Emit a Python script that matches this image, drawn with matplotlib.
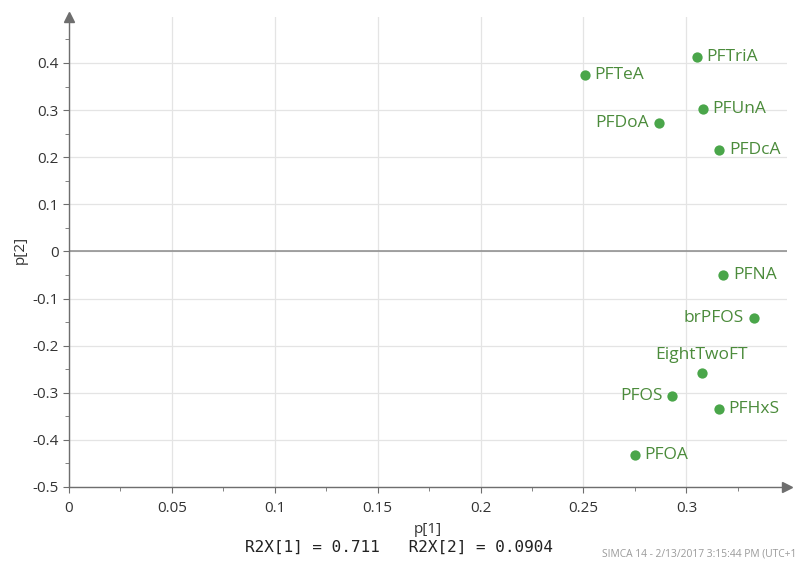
import matplotlib
matplotlib.use("Agg")
import matplotlib.pyplot as plt
from matplotlib.ticker import MultipleLocator, FuncFormatter

plt.rcParams['font.family'] = ['Open Sans', 'DejaVu Sans']

names = ["PFTriA", "PFTeA", "PFUnA", "PFDoA", "PFDcA", "PFNA",
         "brPFOS", "EightTwoFT", "PFOS", "PFHxS", "PFOA"]
p1 = [0.305, 0.2505, 0.308, 0.2865, 0.316, 0.318,
      0.3327, 0.3074, 0.293, 0.3157, 0.2748]
p2 = [0.413, 0.375, 0.302, 0.273, 0.215, -0.050,
      -0.141, -0.258, -0.307, -0.334, -0.432]
# where each label sits relative to its point
label_side = ["r", "r", "r", "l", "r", "r", "l", "t", "l", "r", "r"]

green = "#4aa64a"
text_green = "#4b8b3b"
axis_grey = "#6e6e6e"

fig = plt.figure(figsize=(7.98, 5.61), dpi=100)
ax = fig.add_axes([0.0865, 0.132, 0.9, 0.838])

ax.scatter(p1, p2, s=55, color=green, zorder=3, linewidths=0)
for n, x, y, side in zip(names, p1, p2, label_side):
    if side == "r":
        ax.annotate(n, (x, y), xytext=(7, 0), textcoords="offset points",
                    ha="left", va="center", fontsize=12.5, color=text_green)
    elif side == "l":
        ax.annotate(n, (x, y), xytext=(-7, 0), textcoords="offset points",
                    ha="right", va="center", fontsize=12.5, color=text_green)
    else:
        ax.annotate(n, (x, y), xytext=(0, 7), textcoords="offset points",
                    ha="center", va="bottom", fontsize=12.5, color=text_green)

ax.set_xlim(0, 0.349)
ax.set_ylim(-0.5, 0.498)
ax.axhline(0, color="#8a8a8a", lw=1.1, zorder=2)

ax.xaxis.set_major_locator(MultipleLocator(0.05))
ax.xaxis.set_minor_locator(MultipleLocator(0.025))
ax.yaxis.set_major_locator(MultipleLocator(0.1))
ax.yaxis.set_minor_locator(MultipleLocator(0.05))
fmt = FuncFormatter(lambda v, pos: "0" if abs(v) < 1e-9 else ("%g" % round(v, 3)))
ax.xaxis.set_major_formatter(fmt)
ax.yaxis.set_major_formatter(fmt)
ax.grid(True, which="major", color="#e4e4e4", lw=0.9, zorder=0)
ax.tick_params(which="both", direction="out", color=axis_grey, labelsize=11,
               labelcolor="#333333")
ax.tick_params(which="major", length=4)
ax.tick_params(which="minor", length=3)
ax.tick_params(axis="x", pad=6)

for s in ["top", "right"]:
    ax.spines[s].set_visible(False)
for s in ["left", "bottom"]:
    ax.spines[s].set_color(axis_grey)
    ax.spines[s].set_linewidth(1)

# arrow heads at the ends of the axes
ax.plot(1, 0, ">", transform=ax.transAxes, color=axis_grey, ms=7, clip_on=False)
ax.plot(0, 1, "^", transform=ax.transAxes, color=axis_grey, ms=7, clip_on=False)

fig.text(0.536, 0.057, "p[1]", ha="center", va="center", fontsize=11, color="#333333")
fig.text(0.025, 0.555, "p[2]", ha="center", va="center", rotation=90,
         fontsize=11, color="#333333")
fig.text(0.50, 0.025, "R2X[1] = 0.711   R2X[2] = 0.0904", ha="center", va="center",
         fontsize=11.5, family="DejaVu Sans Mono", color="#222222")
fig.text(0.998, 0.013, "SIMCA 14 - 2/13/2017 3:15:44 PM (UTC+1", ha="right",
         va="center", fontsize=7.4, color="#9a9a9a")

fig.savefig("out.png", dpi=100)
